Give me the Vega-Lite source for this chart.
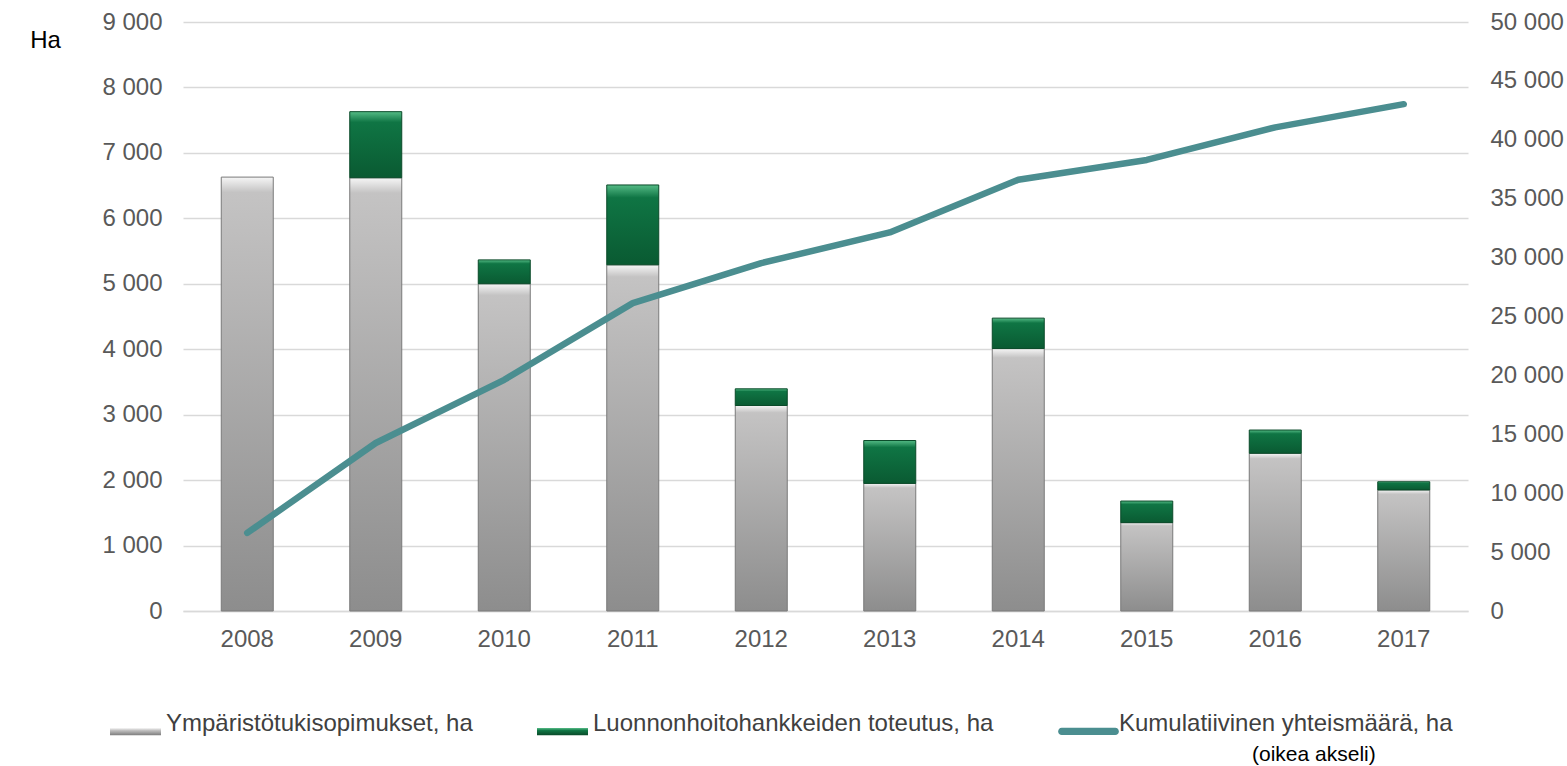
{
  "$schema": "https://vega.github.io/schema/vega-lite/v6.json",
  "width": 1285,
  "height": 589,
  "autosize": {"type": "none"},
  "padding": {"left": 183, "top": 22, "right": 99, "bottom": 155},
  "background": "white",
  "config": {
    "locale": {"number": {"decimal": ",", "thousands": " ", "grouping": [3], "currency": ["", " €"]}},
    "font": "Liberation Sans",
    "view": {"stroke": null},
    "axis": {"labelFont": "Liberation Sans", "labelFontSize": 24, "labelColor": "#595959"}
  },
  "title": {
    "text": "(oikea akseli)",
    "orient": "bottom",
    "anchor": "start",
    "frame": "group",
    "dx": 1069,
    "offset": 8,
    "fontSize": 21,
    "fontWeight": "normal",
    "color": "#000000",
    "font": "Liberation Sans"
  },
  "data": {
    "values": [
      {"year": "2008", "series": "Ympäristötukisopimukset, ha", "value": 6630},
      {"year": "2009", "series": "Ympäristötukisopimukset, ha", "value": 6620},
      {"year": "2010", "series": "Ympäristötukisopimukset, ha", "value": 5000},
      {"year": "2011", "series": "Ympäristötukisopimukset, ha", "value": 5290},
      {"year": "2012", "series": "Ympäristötukisopimukset, ha", "value": 3140},
      {"year": "2013", "series": "Ympäristötukisopimukset, ha", "value": 1950},
      {"year": "2014", "series": "Ympäristötukisopimukset, ha", "value": 4010},
      {"year": "2015", "series": "Ympäristötukisopimukset, ha", "value": 1350},
      {"year": "2016", "series": "Ympäristötukisopimukset, ha", "value": 2410},
      {"year": "2017", "series": "Ympäristötukisopimukset, ha", "value": 1850},
      {"year": "2009", "series": "Luonnonhoitohankkeiden toteutus, ha", "value": 1010},
      {"year": "2010", "series": "Luonnonhoitohankkeiden toteutus, ha", "value": 365},
      {"year": "2011", "series": "Luonnonhoitohankkeiden toteutus, ha", "value": 1220},
      {"year": "2012", "series": "Luonnonhoitohankkeiden toteutus, ha", "value": 255},
      {"year": "2013", "series": "Luonnonhoitohankkeiden toteutus, ha", "value": 655},
      {"year": "2014", "series": "Luonnonhoitohankkeiden toteutus, ha", "value": 465},
      {"year": "2015", "series": "Luonnonhoitohankkeiden toteutus, ha", "value": 330},
      {"year": "2016", "series": "Luonnonhoitohankkeiden toteutus, ha", "value": 355},
      {"year": "2017", "series": "Luonnonhoitohankkeiden toteutus, ha", "value": 125},
      {"year": "2008", "series": "Kumulatiivinen yhteismäärä, ha", "value": 6630},
      {"year": "2009", "series": "Kumulatiivinen yhteismäärä, ha", "value": 14260},
      {"year": "2010", "series": "Kumulatiivinen yhteismäärä, ha", "value": 19625},
      {"year": "2011", "series": "Kumulatiivinen yhteismäärä, ha", "value": 26135},
      {"year": "2012", "series": "Kumulatiivinen yhteismäärä, ha", "value": 29530},
      {"year": "2013", "series": "Kumulatiivinen yhteismäärä, ha", "value": 32135},
      {"year": "2014", "series": "Kumulatiivinen yhteismäärä, ha", "value": 36610},
      {"year": "2015", "series": "Kumulatiivinen yhteismäärä, ha", "value": 38290},
      {"year": "2016", "series": "Kumulatiivinen yhteismäärä, ha", "value": 41055},
      {"year": "2017", "series": "Kumulatiivinen yhteismäärä, ha", "value": 43025}
    ]
  },
  "encoding": {
    "x": {
      "field": "year",
      "type": "ordinal",
      "scale": {"paddingInner": 0.6, "paddingOuter": 0.3},
      "axis": {
        "title": null,
        "labelAngle": 0,
        "ticks": false,
        "tickSize": 0,
        "domain": true,
        "domainColor": "#d9d9d9",
        "domainWidth": 1.5,
        "labelPadding": 16,
        "grid": false
      }
    }
  },
  "layer": [
    {
      "encoding": {
        "y": {
          "field": "v1",
          "type": "quantitative",
          "scale": {"domain": [0, 9000], "nice": false},
          "axis": {
            "title": "Ha",
            "titleAngle": 0,
            "titleX": -138,
            "titleY": 18,
            "titleAlign": "center",
            "titleBaseline": "middle",
            "titleFontSize": 24,
            "titleFontWeight": "normal",
            "titleColor": "#000000",
            "titleFont": "Liberation Sans",
            "values": [0, 1000, 2000, 3000, 4000, 5000, 6000, 7000, 8000, 9000],
            "format": ",.0f",
            "grid": true,
            "gridColor": "#d9d9d9",
            "gridWidth": 1.5,
            "domain": false,
            "ticks": false,
            "labelPadding": 21
          }
        },
        "y2": {"field": "v0"}
      },
      "layer": [
        {
          "transform": [
            {"filter": "datum.series !== 'Kumulatiivinen yhteismäärä, ha'"},
            {"stack": "value", "groupby": ["year"], "sort": [{"field": "series", "order": "descending"}], "as": ["v0", "v1"]},
            {"filter": "datum.series === 'Ympäristötukisopimukset, ha'"}
          ],
          "mark": {
            "type": "bar",
            "width": 52,
            "stroke": "#7a7a7a",
            "strokeWidth": 1,
            "color": {"gradient": "linear", "x1": 0, "y1": 0, "x2": 0, "y2": 1, "stops": [{"offset": 0, "color": "#f6f6f6"}, {"offset": 0.035, "color": "#c4c3c3"}, {"offset": 1, "color": "#8d8d8d"}]}
          }
        },
        {
          "transform": [
            {"filter": "datum.series !== 'Kumulatiivinen yhteismäärä, ha'"},
            {"stack": "value", "groupby": ["year"], "sort": [{"field": "series", "order": "descending"}], "as": ["v0", "v1"]},
            {"filter": "datum.series === 'Luonnonhoitohankkeiden toteutus, ha'"}
          ],
          "mark": {
            "type": "bar",
            "width": 52,
            "stroke": "#0a4a29",
            "strokeWidth": 1,
            "color": {"gradient": "linear", "x1": 0, "y1": 0, "x2": 0, "y2": 1, "stops": [{"offset": 0, "color": "#55bb86"}, {"offset": 0.16, "color": "#0f7544"}, {"offset": 1, "color": "#0a5a32"}]}
          }
        }
      ]
    },
    {
      "transform": [{"filter": "datum.series === 'Kumulatiivinen yhteismäärä, ha'"}],
      "mark": {"type": "line", "strokeWidth": 6.5, "strokeCap": "round", "strokeJoin": "round"},
      "encoding": {
        "y": {
          "field": "value",
          "type": "quantitative",
          "scale": {"domain": [0, 50000], "nice": false},
          "axis": {
            "orient": "right",
            "title": null,
            "values": [0, 5000, 10000, 15000, 20000, 25000, 30000, 35000, 40000, 45000, 50000],
            "format": ",.0f",
            "grid": false,
            "domain": false,
            "ticks": false,
            "labelPadding": 22
          }
        },
        "color": {
          "field": "series",
          "type": "nominal",
          "scale": {
            "domain": ["Ympäristötukisopimukset, ha", "Luonnonhoitohankkeiden toteutus, ha", "Kumulatiivinen yhteismäärä, ha"],
            "range": ["#a6a6a6", "#0b6b3a", "#4b8e90"]
          },
          "legend": {
            "orient": "none",
            "legendX": -73,
            "legendY": 676,
            "direction": "horizontal",
            "title": null,
            "padding": 0,
            "labelFont": "Liberation Sans",
            "labelFontSize": 24,
            "labelColor": "#404040",
            "labelLimit": 0,
            "symbolSize": 2601,
            "labelOffset": 5,
            "columnPadding": 64,
            "symbolStrokeWidth": 0,
            "encode": {
              "symbols": {
                "update": {
                  "shape": {"signal": "datum.value === 'Kumulatiivinen yhteismäärä, ha' ? 'M-1.05,0.16H1.05A0.14,0.14 0 0 1 1.05,0.44H-1.05A0.14,0.14 0 0 1 -1.05,0.16Z' : 'M-1,0.17H1V0.45H-1Z'"},
                  "fill": {"signal": "datum.value === 'Ympäristötukisopimukset, ha' ? {gradient: 'linear', x1: 0, y1: 0, x2: 0, y2: 1, stops: [{offset: 0, color: '#f6f6f6'}, {offset: 0.3, color: '#c4c3c3'}, {offset: 1, color: '#7d7d7d'}]} : datum.value === 'Luonnonhoitohankkeiden toteutus, ha' ? {gradient: 'linear', x1: 0, y1: 0, x2: 0, y2: 1, stops: [{offset: 0, color: '#55bb86'}, {offset: 0.35, color: '#0f7544'}, {offset: 1, color: '#0a4a29'}]} : '#4b8e90'"},
                  "stroke": {"value": "transparent"},
                  "strokeWidth": {"value": 0},
                  "opacity": {"value": 1}
                }
              }
            }
          }
        }
      }
    }
  ],
  "resolve": {"scale": {"y": "independent"}}
}
